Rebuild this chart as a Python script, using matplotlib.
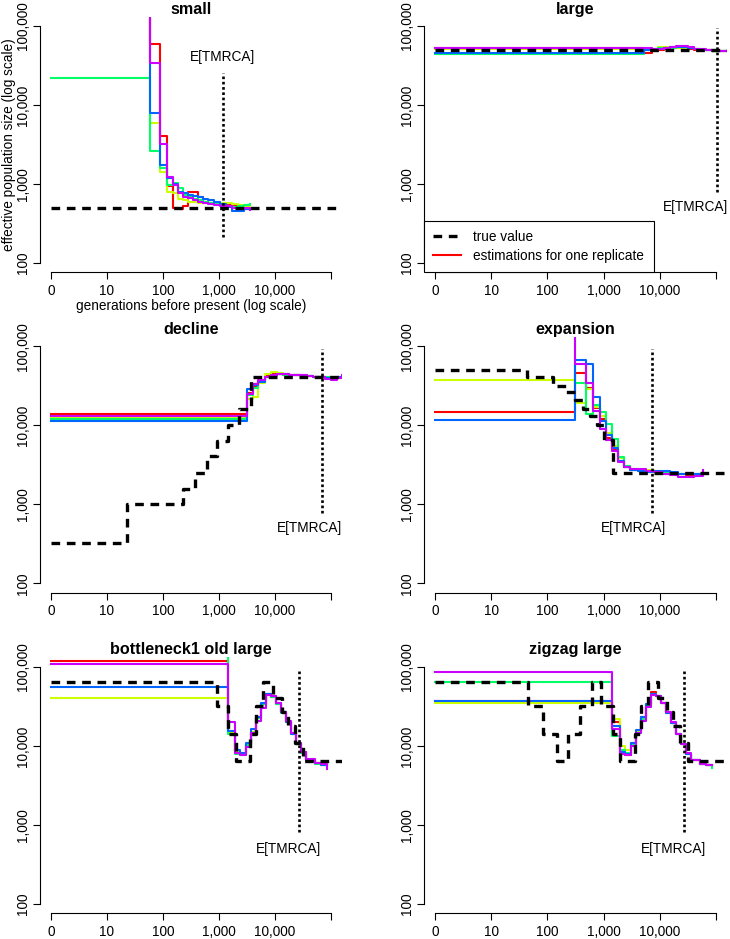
import numpy as np
import matplotlib
matplotlib.use('Agg')
import matplotlib.pyplot as plt
from matplotlib.lines import Line2D

plt.rcParams['font.family'] = ['Liberation Sans', 'DejaVu Sans']
plt.rcParams['font.size'] = 9.8

# rainbow(5): one colour per replicate
rep_colors = ['#FF0000', '#CCFF00', '#00FF66', '#0066FF', '#CC00FF']

x_ticks = [1, 10, 100, 1000, 10000, 100000]
x_labels = ['0', '10', '100', '1,000', '10,000', '']
y_ticks = [100, 1000, 10000, 100000]
y_labels = ['100', '1,000', '10,000', '100,000']

# generation 0 is drawn at 1 on the log axis
# ---- small ----
small_t = [1, 58, 90, 120, 150, 185, 227, 280, 343, 420, 518, 636, 814, 1040, 1334, 1707, 2185, 2795, 3580]
small_est = [
    [300000, 60000, 4000, 950, 500, 480, 520, 800, 800, 680, 600, 570, 560, 550, 540, 520, 500, 480, 480],
    [300000, 5900, 1400, 800, 770, 650, 620, 600, 590, 580, 570, 570, 580, 580, 570, 560, 540, 530, 540],
    [21800, 2600, 1600, 980, 1030, 880, 720, 680, 650, 620, 600, 580, 560, 540, 530, 510, 520, 550, 560],
    [300000, 8000, 1750, 1200, 1000, 800, 760, 720, 700, 680, 650, 620, 590, 560, 510, 460, 460, 480, 480],
    [300000, 34000, 3200, 1240, 980, 760, 690, 660, 630, 600, 580, 560, 540, 530, 520, 490, 480, 490, 470],
]
small_true_t = [1, 200000]
small_true_n = [500, 500]

# ---- large ----
large_t = [1, 5240, 7260, 9290, 11900, 15200, 19400, 24800, 31800, 40600, 51900, 66400, 84900, 108600, 150000]
large_est = [
    [52000, 46000, 48000, 50000, 51000, 52000, 53000, 52000, 51000, 50000, 49500, 49000, 48500, 48000, 48000],
    [51000, 50000, 51000, 54500, 54000, 52000, 53000, 53000, 52000, 50500, 50000, 49000, 48500, 48000, 48000],
    [44000, 50000, 51000, 52000, 52000, 53000, 54000, 54000, 52000, 50500, 50000, 49000, 48500, 48000, 48000],
    [45000, 50000, 51000, 51000, 52000, 54000, 55000, 54500, 53000, 51000, 50000, 49000, 48500, 48000, 48000],
    [53000, 52000, 51000, 51500, 53000, 55000, 56000, 55500, 53500, 51500, 50500, 49500, 49000, 48000, 48000],
]
large_true_t = [1, 200000]
large_true_n = [50000, 50000]

# ---- decline ----
decline_t = [1, 3160, 4000, 4970, 6620, 8490, 10900, 13900, 17800, 22800, 29100, 37200, 47700, 61100, 78100, 100000, 128000, 160000]
decline_est = [
    [14000, 25500, 32000, 37000, 42000, 46500, 45000, 44000, 43500, 43000, 42500, 42000, 41500, 41000, 40000, 39000, 40000, 41000],
    [12700, 21900, 23000, 35000, 45000, 47500, 46000, 44500, 43500, 43000, 42500, 42000, 41500, 41000, 40500, 40000, 40500, 41000],
    [12100, 24000, 30000, 35500, 41000, 44000, 44500, 44000, 43500, 43000, 42500, 42000, 41500, 41000, 40500, 40000, 40500, 41000],
    [11300, 28600, 33000, 36000, 41500, 44000, 45000, 44500, 44000, 43500, 43000, 42000, 41500, 40500, 40000, 39500, 40500, 41500],
    [13300, 25000, 34000, 37400, 41000, 44000, 45000, 44500, 44000, 43500, 43000, 42500, 41500, 40500, 38500, 37500, 40000, 43000],
]
decline_true_t = [1, 23, 224, 372, 600, 910, 1480, 2290, 3700, 200000]
decline_true_n = [330, 1000, 1590, 2540, 4100, 6400, 10200, 16200, 41000, 41000]

# ---- expansion ----
expansion_t = [1, 310, 476, 648, 863, 1104, 1410, 1804, 2307, 2951, 4090, 5680, 7880, 10900, 15200, 21100, 29200, 40600, 58700]
expansion_est = [
    [14700, 46000, 30000, 16500, 12000, 7000, 5000, 3600, 3000, 2750, 2650, 2600, 2600, 2550, 2450, 2400, 2350, 2450, 2600],
    [37200, 19000, 29000, 17000, 13000, 8000, 5500, 3900, 3100, 2800, 2650, 2700, 2600, 2550, 2500, 2450, 2400, 2450, 2500],
    [300000, 34500, 14000, 18400, 15000, 10500, 6800, 4000, 3100, 2750, 2650, 2600, 2550, 2550, 2500, 2450, 2400, 2400, 2450],
    [11700, 67000, 60000, 22900, 11300, 7500, 5200, 3600, 3000, 2700, 2650, 2600, 2650, 2650, 2550, 2450, 2400, 2400, 2500],
    [300000, 59600, 35000, 15200, 9000, 6500, 4800, 3500, 2950, 2850, 2850, 2650, 2550, 2450, 2350, 2250, 2250, 2300, 2750],
]
expansion_true_t = [1, 44, 125, 214, 310, 430, 573, 763, 1015, 1470, 200000]
expansion_true_n = [50000, 41000, 32000, 26500, 21000, 16000, 13000, 10000, 6500, 2500, 2500]

# ---- bottleneck1 old large / zigzag large share the time grid ----
old_t = [1, 1430, 1930, 2370, 3030, 3730, 4580, 5620, 6900, 8490, 10400, 12800, 15700, 19300, 23700, 29100, 35800, 51800, 66200, 84800]
bottle_est = [
    [118000, 15500, 8700, 7900, 10600, 15000, 23000, 34000, 45600, 42000, 34000, 26700, 20000, 14200, 10600, 8300, 6700, 6000, 5800, 5800],
    [40500, 15000, 8500, 7900, 10500, 15000, 22500, 33500, 45000, 42000, 34000, 26500, 20000, 14200, 10600, 8300, 6700, 6000, 5800, 5800],
    [150000, 14100, 7900, 7700, 10400, 14800, 22500, 33500, 45000, 42000, 34000, 26500, 20000, 14000, 10500, 8200, 6600, 5900, 5700, 5700],
    [55000, 15600, 8800, 8200, 11000, 16500, 23500, 34500, 45500, 42500, 34500, 27000, 20000, 14200, 10600, 8300, 6700, 6000, 5800, 5800],
    [110000, 19900, 8100, 7600, 9800, 14500, 21000, 30000, 44000, 43000, 35000, 27000, 20500, 14500, 10800, 8400, 6800, 6000, 5900, 5100],
]
bottle_true_t = [1, 910, 1480, 1995, 3580, 4580, 6100, 9200, 13330, 17060, 22750, 31620, 200000]
bottle_true_n = [64000, 32000, 14000, 6500, 14000, 32000, 64000, 40000, 27000, 18000, 11000, 6500, 6500]

zigzag_est = [
    [37000, 20000, 8000, 7600, 10800, 15500, 23000, 34000, 47800, 43000, 35000, 26500, 19500, 14000, 10500, 8000, 6600, 5900, 5800, 5800],
    [35000, 22000, 10000, 9000, 11000, 15000, 22500, 33500, 46000, 43500, 35500, 27000, 19500, 14000, 10500, 8000, 6600, 5900, 5800, 5800],
    [65200, 13500, 8800, 8200, 10500, 14500, 22000, 33000, 45000, 43000, 35000, 26500, 19500, 14000, 10500, 8000, 6600, 5900, 5700, 5200],
    [37400, 18000, 8300, 8000, 11000, 16000, 23000, 34000, 45500, 43000, 35000, 26500, 19500, 14000, 10500, 8000, 6600, 5900, 5800, 5800],
    [85700, 16500, 7800, 7700, 10000, 14500, 21000, 31000, 44000, 43500, 35500, 27000, 20000, 14200, 10600, 8100, 6700, 5900, 5800, 5800],
]
zigzag_true_t = [1, 45, 84, 146, 235, 380, 614, 910, 1480, 1995, 3580, 4580, 6100, 9200, 13330, 17060, 22750, 31620, 200000]
zigzag_true_n = [64000, 32000, 14000, 6500, 14000, 32000, 64000, 32000, 14000, 6500, 14000, 32000, 64000, 40000, 27000, 18000, 11000, 6500, 6500]

# E[TMRCA]: position, extent of the dotted line, label position
tmrca = [1160, 104000, 68200, 7180, 26800, 26950]
tmrca_lo = [214, 790, 790, 790, 815, 815]
tmrca_hi = [25400, 94000, 94000, 94000, 94000, 94000]
tmrca_txt_x = [1160, 42300, 42200, 3340, 17800, 17400]
tmrca_txt_y = [40500, 510, 510, 510, 500, 500]

titles = ['small', 'large', 'decline', 'expansion', 'bottleneck1 old large', 'zigzag large']
panel_t = [small_t, large_t, decline_t, expansion_t, old_t, old_t]
panel_est = [small_est, large_est, decline_est, expansion_est, bottle_est, zigzag_est]
panel_true_t = [small_true_t, large_true_t, decline_true_t, expansion_true_t, bottle_true_t, zigzag_true_t]
panel_true_n = [small_true_n, large_true_n, decline_true_n, expansion_true_n, bottle_true_n, zigzag_true_n]

fig = plt.figure(figsize=(7.3, 9.39), dpi=100)
lefts = [0.0545, 0.5805]
widths = [0.4142, 0.4158]
bottoms = [0.7098, 0.3685, 0.0272]
h = 0.2726

true_style = (0, (2.6, 2.0))
axes = []
for i in range(6):
    r, c = divmod(i, 2)
    ax = fig.add_axes([lefts[c], bottoms[r], widths[c], h])
    axes.append(ax)
    for col, n in zip(rep_colors, panel_est[i]):
        ax.step(panel_t[i], n, where='post', color=col, lw=1.5)
    ax.step(panel_true_t[i], panel_true_n[i], where='post', color='black', lw=2.4, linestyle=true_style)
    ax.plot([tmrca[i], tmrca[i]], [tmrca_lo[i], tmrca_hi[i]], color='black', lw=1.9, linestyle=(0, (1, 1)))
    ax.text(tmrca_txt_x[i], tmrca_txt_y[i], 'E[TMRCA]', ha='center', va='center')

    ax.set_xscale('log')
    ax.set_yscale('log')
    ax.set_xlim(10 ** -0.2, 10 ** 5.2)
    ax.set_ylim(10 ** 1.88, 10 ** 5.12)
    ax.set_xticks(x_ticks)
    ax.set_xticklabels(x_labels)
    ax.set_yticks(y_ticks)
    ax.set_yticklabels(y_labels, rotation=90, va='center')
    ax.minorticks_off()
    ax.tick_params(direction='out', length=5, width=0.8, pad=3)
    ax.tick_params(axis='y', pad=2)
    for s in ['top', 'right']:
        ax.spines[s].set_visible(False)
    ax.spines['left'].set_bounds(100, 100000)
    ax.spines['bottom'].set_bounds(1, 100000)
    ax.set_title(titles[i], fontweight='bold', fontsize=11.6, pad=2)

axes[0].set_ylabel('effective population size (log scale)')
axes[0].yaxis.set_label_coords(-0.079, 0.5)
axes[0].set_xlabel('generations before present (log scale)', labelpad=1)

handles = [Line2D([], [], color='black', lw=2.4, linestyle=true_style),
           Line2D([], [], color=rep_colors[0], lw=1.5)]
leg = axes[1].legend(handles, ['true value', 'estimations for one replicate'],
                     loc='lower left', bbox_to_anchor=(0, 0), borderaxespad=0,
                     fancybox=False, edgecolor='black', framealpha=1,
                     handlelength=2.05, handletextpad=0.9, borderpad=0.7, labelspacing=0.35)
leg.get_frame().set_linewidth(0.8)

fig.savefig('out.png', dpi=100)
